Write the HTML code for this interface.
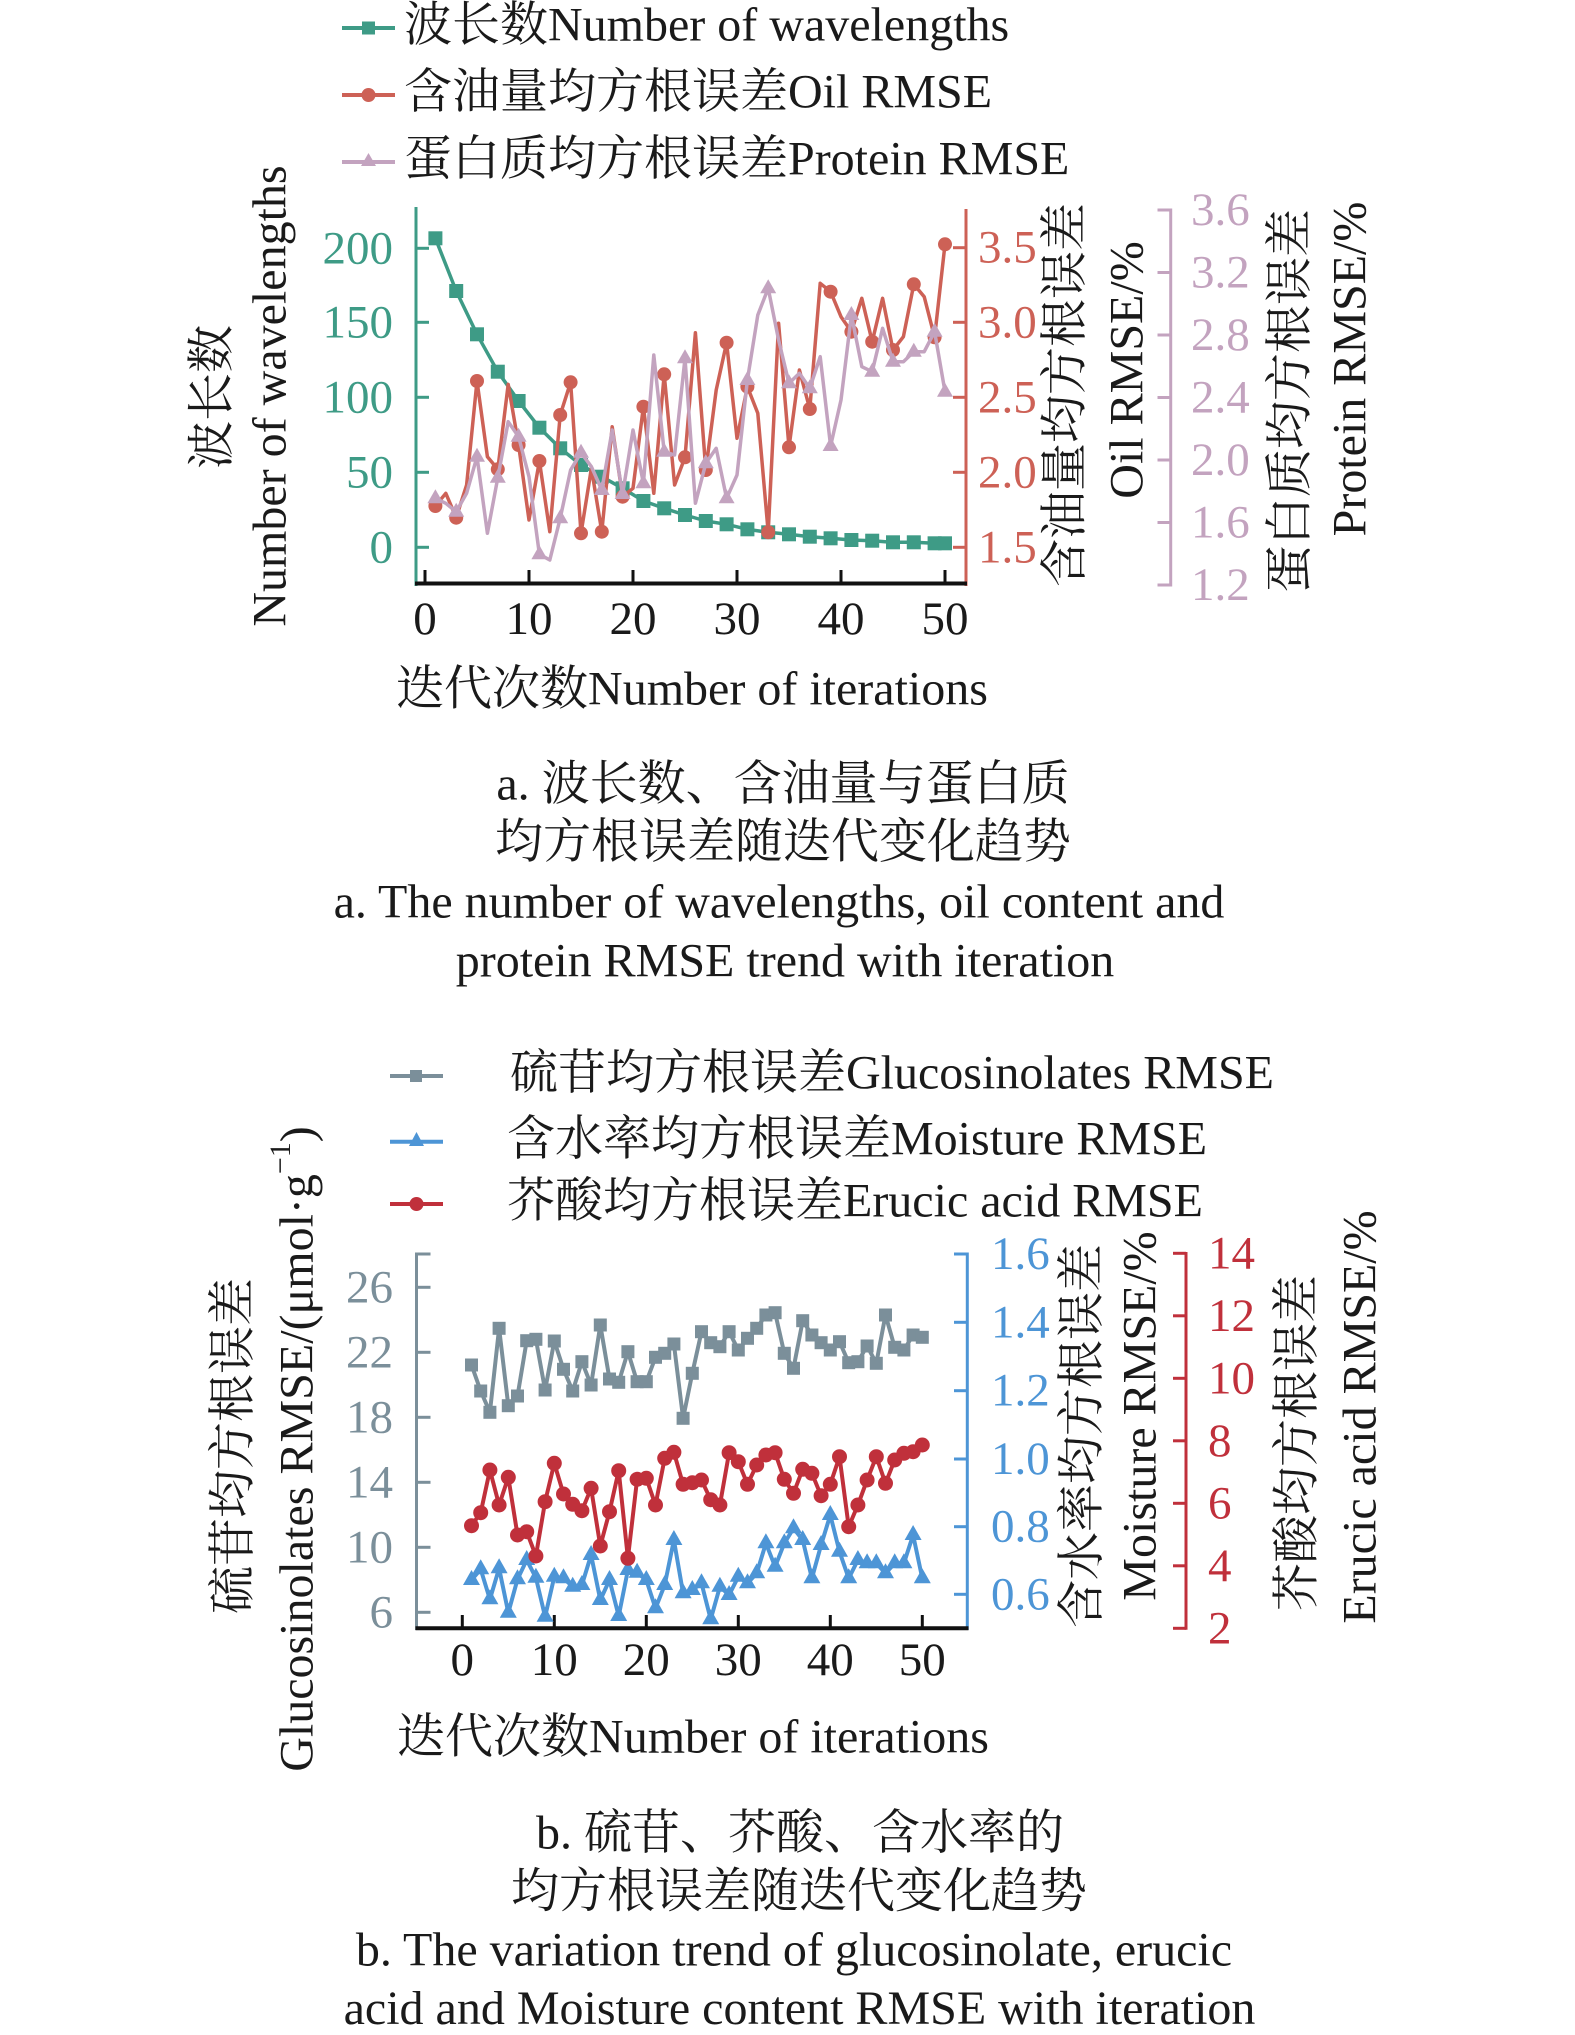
<!DOCTYPE html>
<html>
<head>
<meta charset="utf-8">
<style>
html,body{margin:0;padding:0;background:#fff;}
svg{display:block;}
text{font-family:"Liberation Serif","Noto Serif CJK SC",serif;font-size:48px;dominant-baseline:central;fill:#1a1a1a;}
.t{font-size:47px;}
</style>
</head>
<body>
<svg xmlns="http://www.w3.org/2000/svg" width="1575" height="2035" viewBox="0 0 1575 2035">
<defs>
  <marker id="aSq" markerUnits="userSpaceOnUse" markerWidth="14" markerHeight="14" refX="7" refY="7" overflow="visible"><rect x="0" y="0" width="14" height="14" fill="#3e9b86"/></marker>
  <marker id="aCi" markerUnits="userSpaceOnUse" markerWidth="14" markerHeight="14" refX="7" refY="7" overflow="visible"><circle cx="7" cy="7" r="7" fill="#cd6156"/></marker>
  <marker id="aTr" markerUnits="userSpaceOnUse" markerWidth="16" markerHeight="14" refX="8" refY="9" overflow="visible"><polygon points="8,0 16,14 0,14" fill="#c3a3bf"/></marker>
  <marker id="bSq" markerUnits="userSpaceOnUse" markerWidth="13" markerHeight="13" refX="6.5" refY="6.5" overflow="visible"><rect x="0" y="0" width="13" height="13" fill="#7b8f9a"/></marker>
  <marker id="bCi" markerUnits="userSpaceOnUse" markerWidth="15" markerHeight="15" refX="7.5" refY="7.5" overflow="visible"><circle cx="7.5" cy="7.5" r="7.5" fill="#c0303b"/></marker>
  <marker id="bTr" markerUnits="userSpaceOnUse" markerWidth="17" markerHeight="15" refX="8.5" refY="10" overflow="visible"><polygon points="8.5,0 17,15 0,15" fill="#4d95d6"/></marker>
</defs>
<rect width="1575" height="2035" fill="#fff"/>

<!-- ================= CHART A ================= -->
<!-- legend -->
<line x1="342" y1="28" x2="395" y2="28" stroke="#3e9b86" stroke-width="4"/>
<rect x="362" y="21.5" width="13" height="13" fill="#3e9b86"/>
<text x="404" y="25">波长数Number of wavelengths</text>
<line x1="342" y1="95" x2="395" y2="95" stroke="#cd6156" stroke-width="4"/>
<circle cx="368.5" cy="95" r="7" fill="#cd6156"/>
<text x="404" y="92">含油量均方根误差Oil RMSE</text>
<line x1="342" y1="162" x2="395" y2="162" stroke="#c3a3bf" stroke-width="4"/>
<polygon points="368.5,153 376,166 361,166" fill="#c3a3bf"/>
<text x="404" y="159">蛋白质均方根误差Protein RMSE</text>

<!-- axes -->
<g stroke-width="3" fill="none">
  <line x1="416" y1="207" x2="416" y2="586" stroke="#3e9b86"/>
  <g stroke="#3e9b86">
    <line x1="416" y1="248.3" x2="429" y2="248.3"/>
    <line x1="416" y1="322.3" x2="429" y2="322.3"/>
    <line x1="416" y1="397.3" x2="429" y2="397.3"/>
    <line x1="416" y1="472.3" x2="429" y2="472.3"/>
    <line x1="416" y1="547.3" x2="429" y2="547.3"/>
  </g>
  <line x1="966" y1="209" x2="966" y2="586" stroke="#cd6156"/>
  <g stroke="#cd6156">
    <line x1="953" y1="247.7" x2="966" y2="247.7"/>
    <line x1="953" y1="322.3" x2="966" y2="322.3"/>
    <line x1="953" y1="397.3" x2="966" y2="397.3"/>
    <line x1="953" y1="472.3" x2="966" y2="472.3"/>
    <line x1="953" y1="547.3" x2="966" y2="547.3"/>
  </g>
  <line x1="1170.7" y1="208.5" x2="1170.7" y2="586.5" stroke="#c3a3bf"/>
  <g stroke="#c3a3bf">
    <line x1="1157.5" y1="210" x2="1170.7" y2="210"/>
    <line x1="1157.5" y1="272.5" x2="1170.7" y2="272.5"/>
    <line x1="1157.5" y1="335" x2="1170.7" y2="335"/>
    <line x1="1157.5" y1="397.5" x2="1170.7" y2="397.5"/>
    <line x1="1157.5" y1="460" x2="1170.7" y2="460"/>
    <line x1="1157.5" y1="522.5" x2="1170.7" y2="522.5"/>
    <line x1="1157.5" y1="585" x2="1170.7" y2="585"/>
  </g>
  <line x1="415" y1="583.5" x2="967" y2="583.5" stroke="#111" stroke-width="4"/>
  <g stroke="#111">
    <line x1="425" y1="570" x2="425" y2="583"/>
    <line x1="529" y1="570" x2="529" y2="583"/>
    <line x1="633" y1="570" x2="633" y2="583"/>
    <line x1="737" y1="570" x2="737" y2="583"/>
    <line x1="841" y1="570" x2="841" y2="583"/>
    <line x1="945" y1="570" x2="945" y2="583"/>
  </g>
</g>

<!-- series A -->
<polyline fill="none" stroke="#3e9b86" stroke-width="3.5" stroke-linejoin="round" points="435.4,238.3 456.2,291 477,334.3 497.8,371.7 518.6,401 539.4,427.7 560.2,448.3 581,465 601.8,476.7 622.6,488.3 643.4,501 664.2,508.3 685,515 705.8,521 726.6,524.3 747.4,529.3 768.2,532.3 789,534.3 809.8,536.7 830.6,538.3 851.4,540 872.2,540.7 893,542.3 913.8,542.3 934.6,543.3 945,543.3" marker-start="url(#aSq)" marker-mid="url(#aSq)" marker-end="url(#aSq)"/>

<polyline fill="none" stroke="#cd6156" stroke-width="3.5" stroke-linejoin="round" points="435.4,506 445.8,493.3 456.2,517.7 466.6,485 477,381 487.4,456.7 497.8,469.3 508.2,384.3 518.6,445 529,520 539.4,461 549.8,531.7 560.2,415 570.6,382.3 581,533.3 591.4,468.3 601.8,531.7 612.2,426.7 622.6,496.7 633,488.3 643.4,406.7 653.8,493.3 664.2,374.3 674.6,485 685,457.3 695.4,332.7 705.8,470 716.2,390 726.6,342.7 737,438.3 747.4,386.7 757.8,413.3 768.2,532.3 778.6,323.3 789,447.3 799.4,370 809.8,409 820.2,283.3 830.6,291.7 841,316.7 851.4,331.7 861.8,298.3 872.2,341.7 882.6,298.3 893,350 903.4,336.7 913.8,284.3 924.2,296.7 934.6,337.3 945,244.3"/>
<polyline fill="none" stroke="none" points="435.4,506 456.2,517.7 477,381 497.8,469.3 518.6,445 539.4,461 560.2,415 570.6,382.3 581,533.3 601.8,531.7 622.6,496.7 643.4,406.7 664.2,374.3 685,457.3 705.8,470 726.6,342.7 747.4,386.7 768.2,532.3 789,447.3 809.8,409 830.6,291.7 851.4,331.7 872.2,341.7 893,350 913.8,284.3 934.6,337.3 945,244.3" marker-start="url(#aCi)" marker-mid="url(#aCi)" marker-end="url(#aCi)"/>

<polyline fill="none" stroke="#c3a3bf" stroke-width="3.5" stroke-linejoin="round" points="435.4,498.3 445.8,503.3 456.2,511.7 466.6,493.3 477,456.7 487.4,533.3 497.8,477.7 508.2,421.7 518.6,436.7 529,476.7 539.4,554.3 549.8,560 560.2,518.3 570.6,470 581,452.7 591.4,466.7 601.8,490 612.2,430 622.6,494 633,430 643.4,483.3 653.8,355 664.2,451.7 674.6,455 685,358.3 695.4,503.3 705.8,463.3 716.2,448.3 726.6,498.3 737,475 747.4,380 757.8,315 768.2,288.3 778.6,340 789,383.3 799.4,373.3 809.8,388.3 820.2,356.7 830.6,446 841,400 851.4,315 861.8,366.7 872.2,371.7 882.6,328.3 893,361.7 903.4,361.7 913.8,351.7 924.2,351.7 934.6,331.7 945,391.7"/>
<polyline fill="none" stroke="none" points="435.4,498.3 456.2,511.7 477,456.7 497.8,477.7 518.6,436.7 539.4,554.3 560.2,518.3 581,452.7 601.8,490 622.6,494 643.4,483.3 664.2,451.7 685,358.3 705.8,463.3 726.6,498.3 747.4,380 768.2,288.3 789,383.3 809.8,388.3 830.6,446 851.4,315 872.2,371.7 893,361.7 913.8,351.7 934.6,331.7 945,391.7" marker-start="url(#aTr)" marker-mid="url(#aTr)" marker-end="url(#aTr)"/>

<!-- tick labels A -->
<g class="t" text-anchor="end" style="fill:#3e9b86">
  <text class="t" x="393" y="248.3" style="fill:#3e9b86">200</text>
  <text class="t" x="393" y="322.3" style="fill:#3e9b86">150</text>
  <text class="t" x="393" y="397.3" style="fill:#3e9b86">100</text>
  <text class="t" x="393" y="472.3" style="fill:#3e9b86">50</text>
  <text class="t" x="393" y="547.3" style="fill:#3e9b86">0</text>
</g>
<g text-anchor="middle">
  <text class="t" x="425" y="619">0</text>
  <text class="t" x="529" y="619">10</text>
  <text class="t" x="633" y="619">20</text>
  <text class="t" x="737" y="619">30</text>
  <text class="t" x="841" y="619">40</text>
  <text class="t" x="945" y="619">50</text>
</g>
<g text-anchor="start">
  <text class="t" x="978" y="247.7" style="fill:#cd6156">3.5</text>
  <text class="t" x="978" y="322.3" style="fill:#cd6156">3.0</text>
  <text class="t" x="978" y="397.3" style="fill:#cd6156">2.5</text>
  <text class="t" x="978" y="472.3" style="fill:#cd6156">2.0</text>
  <text class="t" x="978" y="547.3" style="fill:#cd6156">1.5</text>
  <text class="t" x="1191" y="210" style="fill:#c3a3bf">3.6</text>
  <text class="t" x="1191" y="272.5" style="fill:#c3a3bf">3.2</text>
  <text class="t" x="1191" y="335" style="fill:#c3a3bf">2.8</text>
  <text class="t" x="1191" y="397.5" style="fill:#c3a3bf">2.4</text>
  <text class="t" x="1191" y="460" style="fill:#c3a3bf">2.0</text>
  <text class="t" x="1191" y="522.5" style="fill:#c3a3bf">1.6</text>
  <text class="t" x="1191" y="585" style="fill:#c3a3bf">1.2</text>
</g>

<!-- axis titles A -->
<g text-anchor="middle">
  <text x="212" y="397" transform="rotate(-90 212 397)">波长数</text>
  <text x="270" y="396" transform="rotate(-90 270 396)">Number of wavelengths</text>
  <text x="1065" y="395" transform="rotate(-90 1065 395)">含油量均方根误差</text>
  <text x="1127" y="370" transform="rotate(-90 1127 370)">Oil RMSE/%</text>
  <text x="1290" y="401" transform="rotate(-90 1290 401)">蛋白质均方根误差</text>
  <text x="1350" y="369" transform="rotate(-90 1350 369)">Protein RMSE/%</text>
  <text x="692" y="689">迭代次数Number of iterations</text>
</g>

<!-- caption A -->
<g text-anchor="middle">
  <text x="783" y="784">a. 波长数、含油量与蛋白质</text>
  <text x="783" y="842">均方根误差随迭代变化趋势</text>
  <text x="779" y="902">a. The number of wavelengths, oil content and</text>
  <text x="785" y="961">protein RMSE trend with iteration</text>
</g>

<!-- ================= CHART B ================= -->
<!-- legend -->
<line x1="390" y1="1076" x2="443" y2="1076" stroke="#7b8f9a" stroke-width="4"/>
<rect x="410" y="1070" width="12" height="12" fill="#7b8f9a"/>
<text x="510" y="1073">硫苷均方根误差Glucosinolates RMSE</text>
<line x1="390" y1="1141.7" x2="443" y2="1141.7" stroke="#4d95d6" stroke-width="4"/>
<polygon points="416.5,1132 424,1146 409,1146" fill="#4d95d6"/>
<text x="507" y="1139">含水率均方根误差Moisture RMSE</text>
<line x1="390" y1="1204" x2="443" y2="1204" stroke="#c0303b" stroke-width="4"/>
<circle cx="416.5" cy="1204" r="7" fill="#c0303b"/>
<text x="507" y="1201">芥酸均方根误差Erucic acid RMSE</text>

<!-- axes B -->
<g stroke-width="3" fill="none">
  <line x1="416.5" y1="1252.5" x2="416.5" y2="1630" stroke="#7b8f9a"/>
  <g stroke="#7b8f9a">
    <line x1="416.5" y1="1254" x2="430.5" y2="1254"/>
    <line x1="416.5" y1="1287.3" x2="430.5" y2="1287.3"/>
    <line x1="416.5" y1="1352.3" x2="430.5" y2="1352.3"/>
    <line x1="416.5" y1="1417.3" x2="430.5" y2="1417.3"/>
    <line x1="416.5" y1="1482.3" x2="430.5" y2="1482.3"/>
    <line x1="416.5" y1="1547.3" x2="430.5" y2="1547.3"/>
    <line x1="416.5" y1="1612.3" x2="430.5" y2="1612.3"/>
  </g>
  <line x1="967.3" y1="1252.5" x2="967.3" y2="1630" stroke="#4d95d6"/>
  <g stroke="#4d95d6">
    <line x1="954" y1="1254" x2="967.3" y2="1254"/>
    <line x1="954" y1="1322.3" x2="967.3" y2="1322.3"/>
    <line x1="954" y1="1390.7" x2="967.3" y2="1390.7"/>
    <line x1="954" y1="1459" x2="967.3" y2="1459"/>
    <line x1="954" y1="1526.7" x2="967.3" y2="1526.7"/>
    <line x1="954" y1="1594.3" x2="967.3" y2="1594.3"/>
  </g>
  <line x1="1186" y1="1252" x2="1186" y2="1629.8" stroke="#c0303b"/>
  <g stroke="#c0303b">
    <line x1="1173" y1="1253.3" x2="1186" y2="1253.3"/>
    <line x1="1173" y1="1315.8" x2="1186" y2="1315.8"/>
    <line x1="1173" y1="1378.3" x2="1186" y2="1378.3"/>
    <line x1="1173" y1="1440.8" x2="1186" y2="1440.8"/>
    <line x1="1173" y1="1503.3" x2="1186" y2="1503.3"/>
    <line x1="1173" y1="1565.8" x2="1186" y2="1565.8"/>
    <line x1="1173" y1="1628.3" x2="1186" y2="1628.3"/>
  </g>
  <line x1="415.5" y1="1628.3" x2="968.5" y2="1628.3" stroke="#111" stroke-width="4"/>
  <g stroke="#111">
    <line x1="462.3" y1="1615" x2="462.3" y2="1628"/>
    <line x1="554.3" y1="1615" x2="554.3" y2="1628"/>
    <line x1="646.3" y1="1615" x2="646.3" y2="1628"/>
    <line x1="738.3" y1="1615" x2="738.3" y2="1628"/>
    <line x1="830.3" y1="1615" x2="830.3" y2="1628"/>
    <line x1="922.3" y1="1615" x2="922.3" y2="1628"/>
  </g>
</g>

<!-- series B -->
<polyline fill="none" stroke="#7b8f9a" stroke-width="4" stroke-linejoin="round" points="471.5,1365 480.7,1391 489.9,1412.3 499.1,1328.3 508.3,1405.7 517.5,1396 526.7,1340.7 535.9,1339.3 545.1,1390 554.3,1341 563.5,1369.3 572.7,1391 581.9,1361.7 591.1,1385 600.3,1325 609.5,1379 618.7,1382.3 627.9,1351.7 637.1,1381.7 646.3,1381.7 655.5,1357.3 664.7,1353.3 673.9,1344 683.1,1418.3 692.3,1373.3 701.5,1331.7 710.7,1342.7 719.9,1346.7 729.1,1331.7 738.3,1350 747.5,1338.3 756.7,1328.3 765.9,1315 775.1,1312.7 784.3,1353.3 793.5,1368.3 802.7,1320.7 811.9,1335 821.1,1342.7 830.3,1350 839.5,1341.7 848.7,1362.7 857.9,1361.7 867.1,1346 876.3,1363.3 885.5,1315 894.7,1347.3 903.9,1350 913.1,1335 922.3,1337.3" marker-start="url(#bSq)" marker-mid="url(#bSq)" marker-end="url(#bSq)"/>

<polyline fill="none" stroke="#4d95d6" stroke-width="4" stroke-linejoin="round" points="471.5,1580 480.7,1569.3 489.9,1599.3 499.1,1568.3 508.3,1612.7 517.5,1579.3 526.7,1560 535.9,1577.7 545.1,1616.7 554.3,1576.7 563.5,1578.3 572.7,1586.7 581.9,1585 591.1,1555 600.3,1600 609.5,1580 618.7,1616 627.9,1570 637.1,1572.7 646.3,1580 655.5,1608.3 664.7,1585 673.9,1540 683.1,1593.3 692.3,1590 701.5,1583.3 710.7,1619.3 719.9,1586.7 729.1,1595 738.3,1576.7 747.5,1583.3 756.7,1573.3 765.9,1543.3 775.1,1566.7 784.3,1543.3 793.5,1528.3 802.7,1540 811.9,1578.3 821.1,1545 830.3,1515 839.5,1551.7 848.7,1578.3 857.9,1560 867.1,1563.3 876.3,1563.3 885.5,1573.3 894.7,1563.3 903.9,1563.3 913.1,1535 922.3,1578.3" marker-start="url(#bTr)" marker-mid="url(#bTr)" marker-end="url(#bTr)"/>

<polyline fill="none" stroke="#c0303b" stroke-width="4" stroke-linejoin="round" points="471.5,1525.7 480.7,1512.7 489.9,1470 499.1,1505 508.3,1477.3 517.5,1535 526.7,1531.7 535.9,1556 545.1,1501.7 554.3,1463.3 563.5,1494 572.7,1504.3 581.9,1510.7 591.1,1488.3 600.3,1546 609.5,1511.7 618.7,1470.7 627.9,1558.3 637.1,1479.3 646.3,1478.3 655.5,1505 664.7,1458.3 673.9,1452.3 683.1,1484.3 692.3,1482.7 701.5,1480 710.7,1499.7 719.9,1505 729.1,1452.7 738.3,1461.7 747.5,1484.3 756.7,1465 765.9,1455 775.1,1452.7 784.3,1479.3 793.5,1493.3 802.7,1469.3 811.9,1473.3 821.1,1495.7 830.3,1484.3 839.5,1456.7 848.7,1526.7 857.9,1505 867.1,1480 876.3,1456.7 885.5,1483.3 894.7,1460 903.9,1453.3 913.1,1451.7 922.3,1445" marker-start="url(#bCi)" marker-mid="url(#bCi)" marker-end="url(#bCi)"/>

<!-- tick labels B -->
<g text-anchor="end">
  <text class="t" x="393" y="1287.3" style="fill:#7b8f9a">26</text>
  <text class="t" x="393" y="1352.3" style="fill:#7b8f9a">22</text>
  <text class="t" x="393" y="1417.3" style="fill:#7b8f9a">18</text>
  <text class="t" x="393" y="1482.3" style="fill:#7b8f9a">14</text>
  <text class="t" x="393" y="1547.3" style="fill:#7b8f9a">10</text>
  <text class="t" x="393" y="1612.3" style="fill:#7b8f9a">6</text>
</g>
<g text-anchor="middle">
  <text class="t" x="462.3" y="1660">0</text>
  <text class="t" x="554.3" y="1660">10</text>
  <text class="t" x="646.3" y="1660">20</text>
  <text class="t" x="738.3" y="1660">30</text>
  <text class="t" x="830.3" y="1660">40</text>
  <text class="t" x="922.3" y="1660">50</text>
</g>
<g text-anchor="start">
  <text class="t" x="991" y="1254" style="fill:#4d95d6">1.6</text>
  <text class="t" x="991" y="1322.3" style="fill:#4d95d6">1.4</text>
  <text class="t" x="991" y="1390.7" style="fill:#4d95d6">1.2</text>
  <text class="t" x="991" y="1459" style="fill:#4d95d6">1.0</text>
  <text class="t" x="991" y="1526.7" style="fill:#4d95d6">0.8</text>
  <text class="t" x="991" y="1594.3" style="fill:#4d95d6">0.6</text>
  <text class="t" x="1208" y="1253.3" style="fill:#c0303b">14</text>
  <text class="t" x="1208" y="1315.8" style="fill:#c0303b">12</text>
  <text class="t" x="1208" y="1378.3" style="fill:#c0303b">10</text>
  <text class="t" x="1208" y="1440.8" style="fill:#c0303b">8</text>
  <text class="t" x="1208" y="1503.3" style="fill:#c0303b">6</text>
  <text class="t" x="1208" y="1565.8" style="fill:#c0303b">4</text>
  <text class="t" x="1208" y="1628.3" style="fill:#c0303b">2</text>
</g>

<!-- axis titles B -->
<g text-anchor="middle">
  <text x="233" y="1446" transform="rotate(-90 233 1446)">硫苷均方根误差</text>
  <text x="297" y="1449" transform="rotate(-90 297 1449)">Glucosinolates RMSE/(μmol·g<tspan font-size="30" dy="-17">−1</tspan><tspan dy="17">)</tspan></text>
  <text x="1082" y="1436" transform="rotate(-90 1082 1436)">含水率均方根误差</text>
  <text x="1140" y="1416" transform="rotate(-90 1140 1416)">Moisture RMSE/%</text>
  <text x="1297" y="1443" transform="rotate(-90 1297 1443)">芥酸均方根误差</text>
  <text x="1360" y="1417" transform="rotate(-90 1360 1417)">Erucic acid RMSE/%</text>
  <text x="693" y="1737">迭代次数Number of iterations</text>
</g>

<!-- caption B -->
<g text-anchor="middle">
  <text x="800" y="1833">b. 硫苷、芥酸、含水率的</text>
  <text x="799" y="1891.5">均方根误差随迭代变化趋势</text>
  <text x="794" y="1950">b. The variation trend of glucosinolate, erucic</text>
  <text x="799.5" y="2008.5">acid and Moisture content RMSE with iteration</text>
</g>
</svg>
</body>
</html>
